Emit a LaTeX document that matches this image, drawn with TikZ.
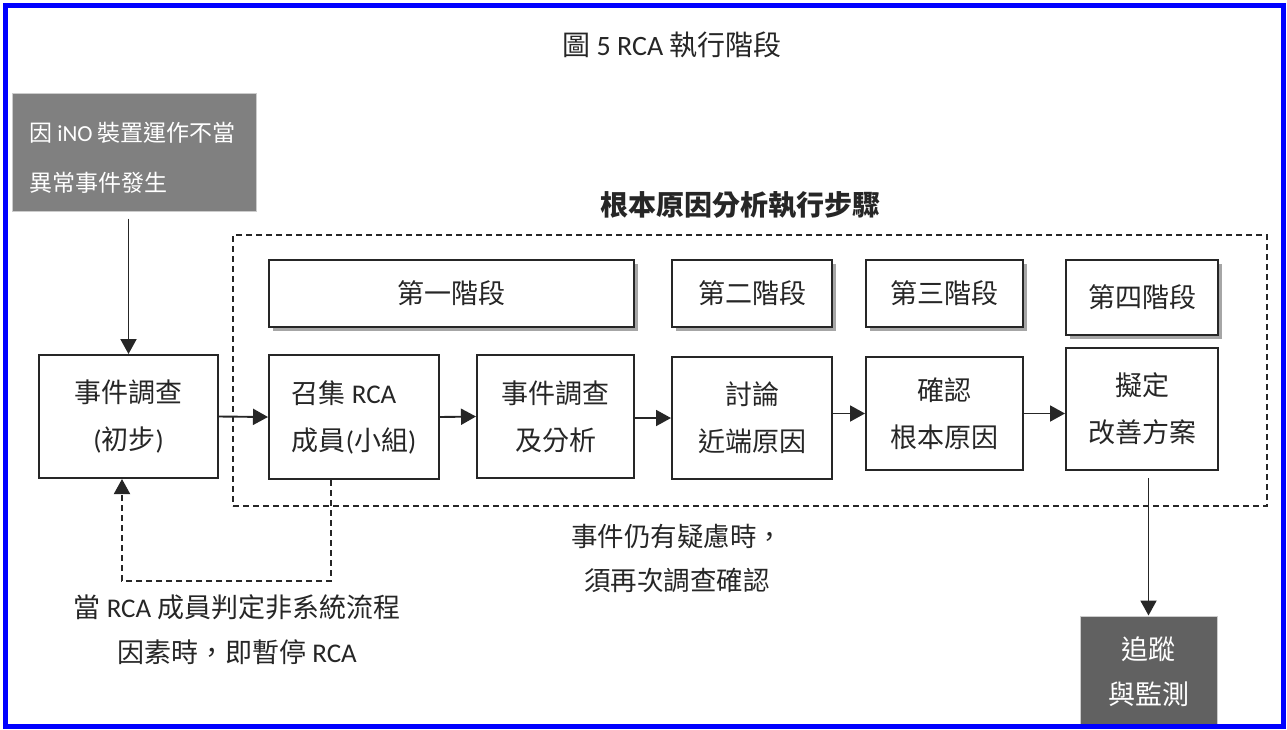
\documentclass[tikz,border=0pt]{standalone}
\usepackage{fontspec}
\setmainfont{Noto Sans CJK TC}
\newfontfamily\latfont{Carlito}
\newcommand{\latw}[1]{{\latfont #1}}
\usetikzlibrary{arrows.meta,shadows}
\tikzset{
  stepbox/.style={draw=black!85, line width=2pt, fill=white, text=black!85, align=center, inner sep=0pt, font=\fontsize{27}{47}\selectfont},
  phasebox/.style={stepbox, drop shadow={shadow xshift=4pt, shadow yshift=-4pt, fill=black!35, opacity=1}},
  arr/.style={line width=1.9pt, draw=black!85, -{Triangle[length=15pt,width=16pt]}},
  dasharr/.style={arr, dash pattern=on 6pt off 4pt},
  zonebox/.style={draw=black!85, line width=2pt, dash pattern=on 6pt off 4pt},
  darkbox/.style={fill=#1, draw=black!20, line width=1pt, text=white!94, inner sep=0pt},
  label/.style={text=black!85, inner sep=0pt, align=center}
}
\begin{document}
\begin{tikzpicture}[x=1pt,y=-1pt]
\useasboundingbox (0,0) rectangle (1287,729);
\fill[white] (0,0) rectangle (1287,729);

% title
\node[label, font=\fontsize{28}{32}\selectfont] (title) at (672,45) {圖 \latw{5 RCA} 執行階段};

% source box
\node[darkbox=black!50, minimum width=244pt, minimum height=118pt] (src) at (134.5,152) {};
\node[label, text=white!94, align=left, anchor=west, font=\fontsize{23}{50}\selectfont] (srctext) at (29,158)
  {因~\latw{iNO}~裝置運作不當\\異常事件發生};

% dashed zone
\node[zonebox, minimum width=1034pt, minimum height=271pt] (zone) at (750,370.5) {};
\node[label, font=\fontsize{28}{32}\selectfont\bfseries] (ztitle) at (740,205) {根本原因分析執行步驟};

% phases
\node[phasebox, minimum width=365pt, minimum height=67pt] (p1) at (451.5,293.5) {第一階段};
\node[phasebox, minimum width=160pt, minimum height=67pt] (p2) at (752,293.5) {第二階段};
\node[phasebox, minimum width=157pt, minimum height=67pt] (p3) at (944.5,293.5) {第三階段};
\node[phasebox, minimum width=152pt, minimum height=75pt] (p4) at (1142,297.5) {第四階段};

% steps
\node[stepbox, minimum width=179pt, minimum height=123pt] (inv) at (128.5,416.5) {事件調查\\\latw{(}初步\latw{)}};
\node[stepbox, minimum width=170pt, minimum height=124pt, align=left] (s1) at (354,417) {召集 \latw{RCA}\\成員\latw{(}小組\latw{)}};
\node[stepbox, minimum width=157pt, minimum height=123pt] (s2) at (555.5,416.5) {事件調查\\及分析};
\node[stepbox, minimum width=160pt, minimum height=122pt] (s3) at (752,418) {討論\\近端原因};
\node[stepbox, minimum width=157pt, minimum height=113pt] (s4) at (944.5,413.5) {確認\\根本原因};
\node[stepbox, minimum width=152pt, minimum height=122pt] (s5) at (1142,409) {擬定\\改善方案};

% tracking box
\node[darkbox=black!62, minimum width=137pt, minimum height=112pt, align=center,
      font=\fontsize{27}{45}\selectfont] (track) at (1148.5,672) {追蹤\\與監測};

% notes
\node[label, font=\fontsize{27}{45}\selectfont] (note1) at (237,629.5) {當 \latw{RCA} 成員判定非系統流程\\因素時，即暫停 \latw{RCA}};
\node[label, font=\fontsize{26.5}{44}\selectfont] (note2) at (677,558) {事件仍有疑慮時，\\須再次調查確認};

% connectors
\draw[arr, shorten <=7pt] (inv.north |- src.south) -- (inv.north);
\draw[arr] (inv.east) -- (s1.west);
\draw[arr] (s1.east) -- (s2.west);
\draw[arr] (s2.east |- s3.west) -- (s3.west);
\draw[arr] (s3.east |- s4.west) -- (s4.west);
\draw[arr] (s4.east) -- (s4.east -| s5.west);
\draw[arr, shorten <=7pt] (track.north |- s5.south) -- (track.north);
\coordinate (fbR) at (331,581);
\coordinate (fbL) at (122,581);
\draw[dasharr] (s1.south -| fbR) -- (fbR) -- (fbL) -- (fbL |- inv.south);

% frame
\draw[line width=5pt, draw={rgb,255:red,0;green,0;blue,255}] (5,5) rectangle (1283.5,726.5);
\end{tikzpicture}
\end{document}
